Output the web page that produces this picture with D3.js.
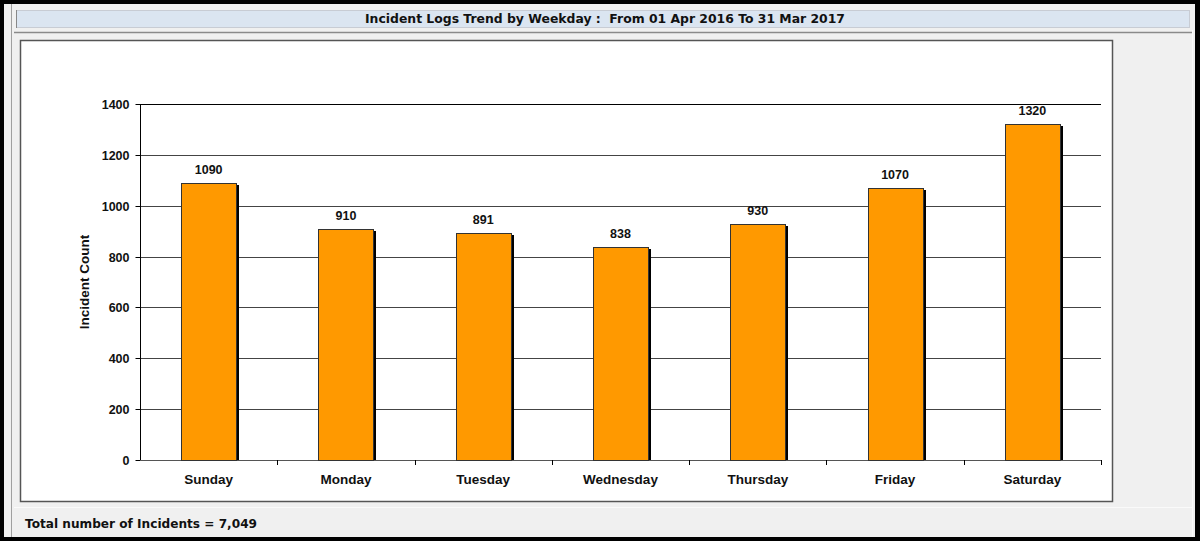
<!DOCTYPE html>
<html>
<head>
<meta charset="utf-8">
<script src="https://cdn.jsdelivr.net/npm/d3@7"></script>
<style>
html,body{margin:0;padding:0;background:#000;}
svg{display:block;}
text{font-family:"Liberation Sans",Arial,sans-serif;font-weight:bold;fill:#111;}
.sysfont{font-family:"DejaVu Sans",Tahoma,sans-serif;white-space:pre;}
</style>
</head>
<body>
<script>
const categories = ["Sunday","Monday","Tuesday","Wednesday","Thursday","Friday","Saturday"];
const incidentCounts = [1090, 910, 891, 838, 930, 1070, 1320];
const yTicks = [0, 200, 400, 600, 800, 1000, 1200, 1400];
const titleText = "Incident Logs Trend by Weekday :  From 01 Apr 2016 To 31 Mar 2017";
const yAxisTitle = "Incident Count";
const footerLabel = "Total number of Incidents = ";

const W = 1200, H = 541;
const svg = d3.select("body").append("svg").attr("width", W).attr("height", H);

// outer black frame and gray window
svg.append("rect").attr("x",0).attr("y",0).attr("width",W).attr("height",H).attr("fill","#000");
svg.append("rect").attr("x",4).attr("y",4).attr("width",1191).attr("height",533).attr("fill","#f0f0f0");
svg.append("line").attr("x1",11.5).attr("x2",11.5).attr("y1",4).attr("y2",537).attr("stroke","#a0a0a0");
svg.append("line").attr("x1",1192.5).attr("x2",1192.5).attr("y1",30).attr("y2",537).attr("stroke","#fafafa");

// title bar
svg.append("rect").attr("x",16.5).attr("y",10.5).attr("width",1173).attr("height",17).attr("fill","#dbe5f1").attr("stroke","#c8ccd4");
svg.append("line").attr("x1",16.5).attr("x2",16.5).attr("y1",10).attr("y2",28).attr("stroke","#888");
svg.append("text").attr("class","sysfont").attr("x",605).attr("y",23).attr("text-anchor","middle")
  .attr("xml:space","preserve").attr("textLength",480).attr("lengthAdjust","spacingAndGlyphs")
  .style("font-size","12px").text(titleText);
svg.append("line").attr("x1",14).attr("x2",1192).attr("y1",32.5).attr("y2",32.5).attr("stroke","#8a8a8a").attr("stroke-width",1.5);

// chart panel
svg.append("rect").attr("x",20.5).attr("y",40.5).attr("width",1092).attr("height",461).attr("fill","#fff").attr("stroke","#555").attr("stroke-width",1.5);
svg.append("line").attr("x1",14).attr("x2",1192).attr("y1",507.5).attr("y2",507.5).attr("stroke","#fafafa");

// scales
const x = d3.scaleBand().domain(categories).range([140, 1101]).paddingInner(0).paddingOuter(0);
const y = d3.scaleLinear().domain([0, 1400]).range([460, 104]);

const g = svg.append("g");

// gridlines
g.selectAll(".grid").data(yTicks.filter(d => d > 0)).enter().append("line")
  .attr("x1",140).attr("x2",1101)
  .attr("y1",d => Math.round(y(d))+0.5).attr("y2",d => Math.round(y(d))+0.5)
  .attr("stroke",d => d === 1400 ? "#000" : "#444").attr("stroke-width",1);

// y axis
const yAxis = d3.axisLeft(y).tickValues(yTicks).tickFormat(d3.format("d")).tickSize(5).tickPadding(6);
const yg = svg.append("g").attr("transform","translate(140.5,0.5)").call(yAxis);
yg.select(".domain").attr("stroke","#000").attr("d","M0,"+Math.round(y(1400))+"V"+Math.round(y(0)));
yg.selectAll(".tick line").attr("stroke","#000");
yg.selectAll(".tick text").style("font-size","12.5px").style("font-family","Liberation Sans, Arial, sans-serif").style("font-weight","bold").attr("fill","#111");
yg.selectAll(".tick").attr("transform", d => "translate(0," + Math.round(y(d)) + ")");

// x axis
svg.append("line").attr("x1",140).attr("x2",1101).attr("y1",460.5).attr("y2",460.5).attr("stroke","#555");
const bounds = categories.map(c => x(c)).concat([x.range()[1]]);
svg.selectAll(".xtick").data(bounds.slice(1)).enter().append("line")
  .attr("x1",d => Math.round(d)+0.5).attr("x2",d => Math.round(d)+0.5)
  .attr("y1",460).attr("y2",465).attr("stroke","#000");
svg.selectAll(".xlab").data(categories).enter().append("text")
  .attr("x",d => x(d) + x.bandwidth()/2).attr("y",484)
  .attr("text-anchor","middle").style("font-size","13.5px").text(d => d);

// bars
const barW = x.bandwidth()*0.4;
const bars = svg.append("g");
bars.selectAll(".shadow").data(incidentCounts).enter().append("rect")
  .attr("x",(d,i) => Math.round(x(categories[i]) + (x.bandwidth()-barW)/2) + 3)
  .attr("y",d => Math.round(y(d)) + 2)
  .attr("width",Math.round(barW)).attr("height",d => 460 - Math.round(y(d)) - 2)
  .attr("fill","#000");
bars.selectAll(".bar").data(incidentCounts).enter().append("rect")
  .attr("x",(d,i) => Math.round(x(categories[i]) + (x.bandwidth()-barW)/2) + 0.5)
  .attr("y",d => Math.round(y(d)) + 0.5)
  .attr("width",Math.round(barW)).attr("height",d => 460 - Math.round(y(d)))
  .attr("fill","#ff9900").attr("stroke","#333").attr("stroke-width",1);
bars.selectAll(".val").data(incidentCounts).enter().append("text")
  .attr("x",(d,i) => x(categories[i]) + x.bandwidth()/2)
  .attr("y",d => y(d) - 9)
  .attr("text-anchor","middle").style("font-size","12.5px").text(d => d);

// y axis title
svg.append("text").attr("transform","translate(89,282) rotate(-90)")
  .attr("text-anchor","middle").style("font-size","13.5px").text(yAxisTitle);

// footer
const total = d3.sum(incidentCounts);
svg.append("text").attr("class","sysfont").attr("x",25).attr("y",528)
  .attr("textLength",232).attr("lengthAdjust","spacingAndGlyphs")
  .style("font-size","12px").text(footerLabel + d3.format(",")(total));
</script>
</body>
</html>
